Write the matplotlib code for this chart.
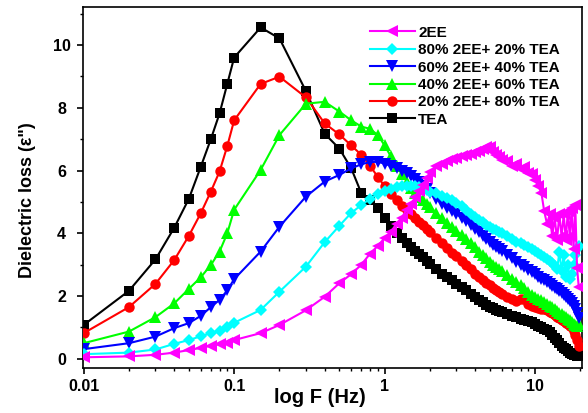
import matplotlib
matplotlib.use("Agg")
import matplotlib.pyplot as plt
from matplotlib.ticker import LogLocator, NullFormatter, FixedLocator, MultipleLocator

plt.rcParams['font.family'] = ['Liberation Sans', 'DejaVu Sans']

# Frequency (Hz): coarse steps below 1 Hz, dense sweep above
freq = [0.01, 0.02, 0.03, 0.04, 0.05, 0.06, 0.07, 0.08, 0.09, 0.1,
        0.15, 0.2, 0.3, 0.4, 0.5, 0.6, 0.7, 0.8, 0.9,
        1.0, 1.1, 1.2, 1.3, 1.4, 1.5, 1.6, 1.7, 1.8, 1.9, 2.0,
        2.2, 2.4, 2.6, 2.8, 3.0,
        3.25, 3.5, 3.75, 4.0, 4.25, 4.5, 4.75, 5.0, 5.25, 5.5, 5.75, 6.0,
        6.5, 7.0, 7.5, 8.0, 8.5, 9.0, 9.5, 10.0,
        10.5, 11, 11.5, 12, 12.5, 13, 13.5, 14, 14.5, 15, 15.5, 16, 16.5, 17, 17.5, 18, 18.5, 19, 19.5]

# Dielectric loss of each sample
loss_2ee = [0.05, 0.08, 0.13, 0.2, 0.28, 0.35, 0.42, 0.47, 0.52, 0.6,
            0.82, 1.08, 1.55, 1.98, 2.41, 2.7, 3.0, 3.35, 3.6,
            3.85, 4.05, 4.3, 4.5, 4.75, 4.95, 5.15, 5.35, 5.55, 5.75, 5.95,
            6.15, 6.22, 6.3, 6.36, 6.4,
            6.45, 6.5, 6.52, 6.6, 6.62, 6.7, 6.74, 6.76, 6.6, 6.48, 6.42, 6.35,
            6.3, 6.15, 6.2, 6.05, 6.1, 5.92, 5.9, 5.7,
            5.5, 5.3, 4.7, 4.3, 4.6, 3.9, 4.5, 3.8, 4.6, 3.9, 4.6, 3.8, 4.7, 3.9, 4.8, 3.5, 4.9, 2.9, 2.3]

loss_80_20 = [0.15, 0.2, 0.3, 0.48, 0.6, 0.72, 0.82, 0.9, 1.0, 1.15,
              1.56, 2.14, 2.94, 3.72, 4.24, 4.65, 4.9, 5.1, 5.25,
              5.35, 5.42, 5.47, 5.5, 5.52, 5.52, 5.5, 5.47, 5.43, 5.38, 5.33,
              5.27, 5.2, 5.13, 5.06, 4.98,
              4.87, 4.75, 4.63, 4.52, 4.43, 4.35, 4.27, 4.2, 4.15, 4.1, 4.05, 4.0,
              3.9, 3.82, 3.72, 3.68, 3.62, 3.55, 3.5, 3.45,
              3.38, 3.3, 3.25, 3.18, 3.12, 3.05, 2.95, 2.85, 3.4, 2.8, 3.3, 2.6, 3.0, 2.55, 2.7, 3.0, 3.3, 3.5, 3.6]

loss_60_40 = [0.31, 0.5, 0.71, 0.98, 1.14, 1.37, 1.65, 1.88, 2.18, 2.54,
              3.42, 4.21, 5.17, 5.65, 5.86, 6.07, 6.2, 6.27, 6.28,
              6.22, 6.15, 6.08, 6.0, 5.92, 5.83, 5.74, 5.64, 5.52, 5.4, 5.28,
              5.1, 4.95, 4.82, 4.71, 4.62,
              4.5, 4.4, 4.27, 4.15, 4.03, 3.92, 3.82, 3.72, 3.64, 3.57, 3.5, 3.44,
              3.32, 3.2, 3.1, 3.0, 2.92, 2.84, 2.77, 2.7,
              2.62, 2.55, 2.5, 2.44, 2.38, 2.32, 2.27, 2.22, 2.16, 2.1, 2.03, 1.97, 1.9, 1.83, 1.77, 1.7, 1.6, 1.45, 1.3]

loss_40_60 = [0.5, 0.87, 1.33, 1.77, 2.23, 2.6, 2.99, 3.42, 4.0, 4.75,
              6.02, 7.13, 8.13, 8.19, 7.88, 7.6, 7.4, 7.33, 7.13,
              6.8, 6.45, 6.15, 5.9, 5.65, 5.45, 5.3, 5.15, 5.05, 4.95, 4.85,
              4.65, 4.48, 4.33, 4.2, 4.08,
              3.95, 3.82, 3.68, 3.55, 3.42, 3.3, 3.2, 3.1, 3.0, 2.92, 2.86, 2.8,
              2.68, 2.56, 2.45, 2.35, 2.25, 2.12, 2.04, 1.98,
              1.92, 1.86, 1.8, 1.74, 1.69, 1.64, 1.58, 1.52, 1.47, 1.42, 1.37, 1.32, 1.28, 1.23, 1.18, 1.12, 1.08, 1.05, 1.1]

loss_20_80 = [0.82, 1.65, 2.39, 3.15, 3.92, 4.64, 5.33, 5.97, 6.78, 7.6,
              8.76, 8.99, 8.33, 7.5, 7.15, 6.8, 6.5, 6.15, 5.8,
              5.5, 5.25, 5.05, 4.88, 4.74, 4.6, 4.48, 4.36, 4.25, 4.14, 4.04,
              3.84, 3.68, 3.52, 3.38, 3.27,
              3.12, 2.98, 2.85, 2.72, 2.62, 2.52, 2.43, 2.35, 2.26, 2.18, 2.12, 2.07,
              1.97, 1.9, 1.84, 1.92, 1.9, 1.76, 1.69, 1.65,
              1.62, 1.6, 1.58, 1.55, 1.5, 1.45, 1.4, 1.35, 1.3, 1.25, 1.2, 1.15, 1.1, 1.05, 1.0, 0.9, 0.75, 0.6, 0.42]

loss_tea = [1.08, 2.17, 3.17, 4.18, 5.1, 6.12, 7.0, 7.82, 8.76, 9.6,
            10.56, 10.21, 8.53, 7.17, 6.7, 6.07, 5.28, 5.05, 4.82,
            4.48, 4.22, 4.0, 3.84, 3.7, 3.58, 3.45, 3.35, 3.24, 3.12, 3.02,
            2.86, 2.72, 2.6, 2.5, 2.4,
            2.29, 2.18, 2.07, 1.97, 1.88, 1.8, 1.73, 1.66, 1.61, 1.56, 1.53, 1.5,
            1.44, 1.38, 1.33, 1.28, 1.24, 1.2, 1.16, 1.12,
            1.06, 1.0, 0.96, 0.92, 0.85, 0.75, 0.68, 0.6, 0.5, 0.42, 0.35, 0.3, 0.25, 0.2, 0.17, 0.13, 0.12, 0.1, 0.08]

labels = ["2EE", "80% 2EE+ 20% TEA", "60% 2EE+ 40% TEA",
          "40% 2EE+ 60% TEA", "20% 2EE+ 80% TEA", "TEA"]
series = [loss_2ee, loss_80_20, loss_60_40, loss_40_60, loss_20_80, loss_tea]
colors = ["#FF00FF", "#00FFFF", "#0000FF", "#00FF00", "#FF0000", "#000000"]
markers = ["<", "D", "v", "^", "o", "s"]
msizes = [9, 6.5, 9, 9, 7.5, 7]

fig = plt.figure(figsize=(5.88, 4.13), dpi=100)
ax = fig.add_axes([0.1412, 0.109, 0.8486, 0.874])

handles = {}
for i in reversed(range(len(series))):
    h, = ax.plot(freq, series[i], color=colors[i], marker=markers[i],
                 markersize=msizes[i], markeredgewidth=0, linewidth=1.5,
                 label=labels[i], zorder=2 + (len(series) - i))
    handles[i] = h

ax.set_xscale("log")
ax.set_xlim(0.0099, 20.5)
ax.set_ylim(-0.29, 11.21)

ax.xaxis.set_major_locator(FixedLocator([0.01, 0.1, 1, 10]))
ax.set_xticklabels(["0.01", "0.1", "1", "10"])
ax.xaxis.set_minor_locator(LogLocator(base=10, subs=range(2, 10), numticks=20))
ax.xaxis.set_minor_formatter(NullFormatter())
ax.yaxis.set_major_locator(MultipleLocator(2))
ax.yaxis.set_minor_locator(MultipleLocator(1))

ax.tick_params(which="major", direction="out", length=4, width=1.2,
               labelsize=11.5, top=False, right=False)
ax.tick_params(axis="x", which="major", pad=4)
ax.tick_params(axis="y", which="major", pad=11.5)
ax.tick_params(which="minor", direction="out", length=2.5, width=1.0,
               top=False, right=False)
for lab in ax.get_xticklabels() + ax.get_yticklabels():
    lab.set_fontweight("bold")
for lab in ax.get_yticklabels():
    lab.set_horizontalalignment("center")
for sp in ax.spines.values():
    sp.set_linewidth(1.2)

ax.set_xlabel("log F (Hz)", fontsize=14.5, fontweight="bold")
ax.xaxis.set_label_coords(0.475, -0.055)
ax.set_ylabel("Dielectric loss (\u03b5\")", fontsize=13, fontweight="bold")
ax.yaxis.set_label_coords(-0.094, 0.465)

leg = ax.legend([handles[i] for i in range(len(series))], labels,
                loc="upper left", bbox_to_anchor=(0.575, 0.948),
                frameon=False, borderpad=0, borderaxespad=0,
                handlelength=2.95, handletextpad=0.2, labelspacing=0.22,
                prop={"size": 11, "weight": "bold"})

fig.savefig("out.png", dpi=100)
